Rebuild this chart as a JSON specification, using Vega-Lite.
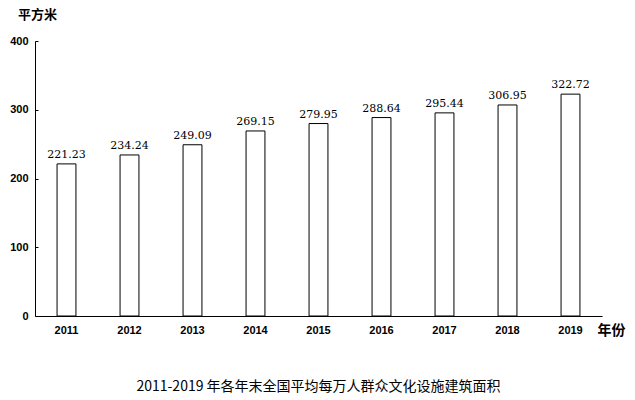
{
  "$schema": "https://vega.github.io/schema/vega-lite/v6.json",
  "autosize": {"type": "none"},
  "width": 567,
  "height": 275,
  "padding": {"left": 35, "top": 41, "right": 33, "bottom": 84},
  "background": "white",
  "title": {
    "text": "2011-2019 年各年末全国平均每万人群众文化设施建筑面积",
    "orient": "bottom",
    "anchor": "middle",
    "font": "Noto Sans CJK SC",
    "fontSize": 14,
    "fontWeight": "normal",
    "color": "black",
    "offset": 43
  },
  "data": {
    "values": [
      {"year": "2011", "area": 221.23},
      {"year": "2012", "area": 234.24},
      {"year": "2013", "area": 249.09},
      {"year": "2014", "area": 269.15},
      {"year": "2015", "area": 279.95},
      {"year": "2016", "area": 288.64},
      {"year": "2017", "area": 295.44},
      {"year": "2018", "area": 306.95},
      {"year": "2019", "area": 322.72}
    ]
  },
  "config": {"view": {"stroke": null}},
  "encoding": {
    "x": {
      "field": "year",
      "type": "ordinal",
      "scale": {"paddingInner": 0.7, "paddingOuter": 0.35},
      "axis": {
        "title": "年份",
        "titleFont": "Noto Sans CJK SC",
        "titleFontSize": 14,
        "titleFontWeight": "bold",
        "titleColor": "black",
        "titleAlign": "left",
        "titleBaseline": "middle",
        "titleAnchor": "start",
        "titleX": 562,
        "titleY": 14,
        "labelAngle": 0,
        "labelFont": "Liberation Sans",
        "labelFontSize": 11,
        "labelFontWeight": "bold",
        "labelColor": "black",
        "labelPadding": 8,
        "ticks": false,
        "domainColor": "black",
        "domainWidth": 1,
        "grid": false
      }
    },
    "y": {
      "field": "area",
      "type": "quantitative",
      "scale": {"domain": [0, 400]},
      "axis": {
        "values": [0, 100, 200, 300, 400],
        "title": "平方米",
        "titleFont": "Noto Sans CJK SC",
        "titleFontSize": 13,
        "titleFontWeight": "bold",
        "titleColor": "black",
        "titleAngle": 0,
        "titleAlign": "center",
        "titleBaseline": "middle",
        "titleX": 2,
        "titleY": -27,
        "labelFont": "Liberation Sans",
        "labelFontSize": 11,
        "labelFontWeight": "bold",
        "labelColor": "black",
        "tickSize": -3,
        "tickColor": "black",
        "labelPadding": 10,
        "domainColor": "black",
        "grid": false
      }
    }
  },
  "layer": [
    {
      "mark": {"type": "bar", "fill": "white", "stroke": "black", "strokeWidth": 1}
    },
    {
      "mark": {"type": "text", "baseline": "bottom", "dy": -4, "font": "DejaVu Serif", "fontSize": 11, "fontWeight": 500, "color": "black"},
      "encoding": {"text": {"field": "area", "type": "quantitative", "format": ".2f"}}
    }
  ]
}
